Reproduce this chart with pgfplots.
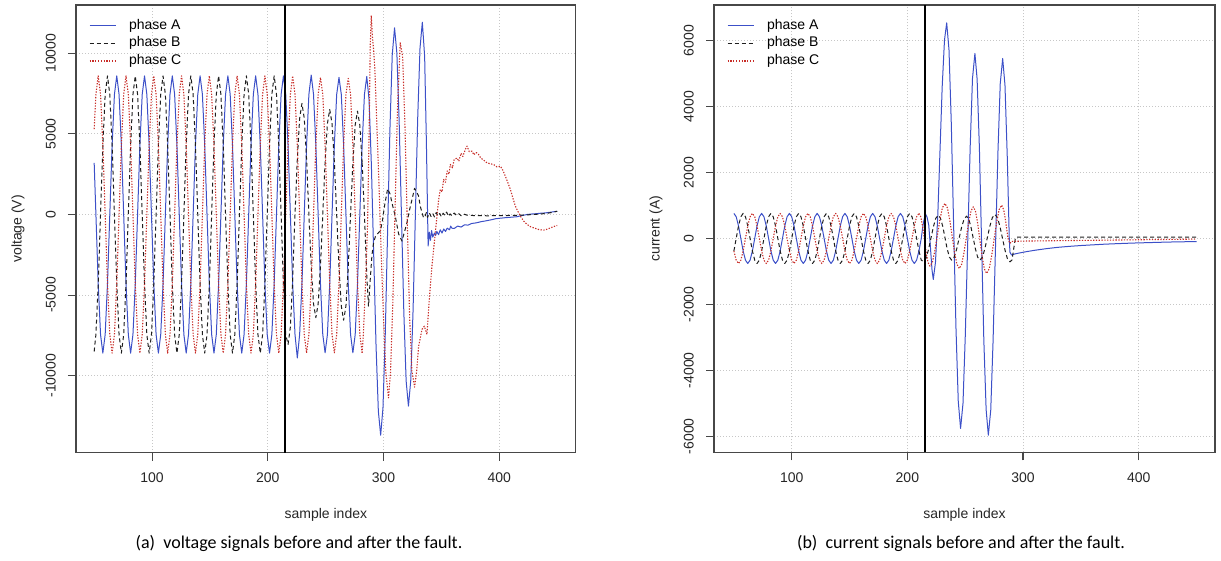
\documentclass[border=0pt]{standalone}
\usepackage{fontspec}
\setmainfont{Liberation Sans}
\newfontfamily\capfont{Carlito}
\usepackage{pgfplots}
\pgfplotsset{compat=1.18}
\usepackage{pgfplotstable}
\definecolor{phA}{RGB}{60,80,200}
\definecolor{phB}{RGB}{30,30,30}
\definecolor{phC}{RGB}{200,45,40}

\pgfplotstableread{
x A B C
50 3200 -8500 5300
51.5 0 -7448 7448
53.5 -4300 -4300 8600
55.5 -7448 0 7448
57.5 -8600 4300 4300
59.5 -7448 7448 0
61.5 -4300 8600 -4300
63.5 0 7448 -7448
65.5 4300 4300 -8600
67.5 7448 0 -7448
69.5 8600 -4300 -4300
71.5 7448 -7448 0
73.5 4300 -8600 4300
75.5 0 -7448 7448
77.5 -4300 -4300 8600
79.5 -7448 0 7448
81.5 -8600 4300 4300
83.5 -7448 7448 0
85.5 -4300 8600 -4300
87.5 0 7448 -7448
89.5 4300 4300 -8600
91.5 7448 0 -7448
93.5 8600 -4300 -4300
95.5 7448 -7448 0
97.5 4300 -8600 4300
99.5 0 -7448 7448
101.5 -4300 -4300 8600
103.5 -7448 0 7448
105.5 -8600 4300 4300
107.5 -7448 7448 0
109.5 -4300 8600 -4300
111.5 0 7448 -7448
113.5 4300 4300 -8600
115.5 7448 0 -7448
117.5 8600 -4300 -4300
119.5 7448 -7448 0
121.5 4300 -8600 4300
123.5 0 -7448 7448
125.5 -4300 -4300 8600
127.5 -7448 0 7448
129.5 -8600 4300 4300
131.5 -7448 7448 0
133.5 -4300 8600 -4300
135.5 0 7448 -7448
137.5 4300 4300 -8600
139.5 7448 0 -7448
141.5 8600 -4300 -4300
143.5 7448 -7448 0
145.5 4300 -8600 4300
147.5 0 -7448 7448
149.5 -4300 -4300 8600
151.5 -7448 0 7448
153.5 -8600 4300 4300
155.5 -7448 7448 0
157.5 -4300 8600 -4300
159.5 0 7448 -7448
161.5 4300 4300 -8600
163.5 7448 0 -7448
165.5 8600 -4300 -4300
167.5 7448 -7448 0
169.5 4300 -8600 4300
171.5 0 -7448 7448
173.5 -4300 -4300 8600
175.5 -7448 0 7448
177.5 -8600 4300 4300
179.5 -7448 7448 0
181.5 -4300 8600 -4300
183.5 0 7448 -7448
185.5 4300 4300 -8600
187.5 7448 0 -7448
189.5 8600 -4300 -4300
191.5 7448 -7448 0
193.5 4300 -8600 4300
195.5 0 -7448 7448
197.5 -4300 -4300 8600
199.5 -7448 0 7448
201.5 -8600 4300 4300
203.5 -7448 7448 0
205.5 -4300 8600 -4300
207.5 0 7448 -7448
209.5 4300 4300 -8600
211.5 7448 0 -7448
213.5 8600 -4300 -4300
215.5 7448 -7448 0
217.5 4300 -8060 4300
219.5 0 -6980 7448
221.5 -4300 -4030 8600
223.5 -7448 0 7448
225.5 -8900 3445 4300
227.5 -7448 5967 0
229.5 -4300 6890 -4300
231.5 0 5967 -7448
233.5 4300 3445 -8600
235.5 7448 0 -7448
237.5 8650 -3200 -4300
239.5 7448 -5542 0
241.5 4300 -6400 4300
243.5 0 -5542 7448
245.5 -4300 -3200 8500
247.5 -7448 0 7448
249.5 -8580 3255 4300
251.5 -7448 5638 0
253.5 -4300 6510 -4300
255.5 0 5638 -7448
257.5 4300 3255 -8580
259.5 7448 0 -7448
261.5 8500 -3280 -4300
263.5 7448 -5681 0
265.5 4300 -6560 4300
267.5 0 -5681 7448
269.5 -4300 -3280 8440
271.5 -7448 0 7448
273.5 -8580 3205 4300
275.5 -7448 5551 0
277.5 -4300 6410 -4300
279.5 0 5551 -7448
281.5 4300 3205 -8580
}\volgrid

\pgfplotstableread{
x y
281.5 4300
283.5 7448
285.5 8560
287.5 7107
289.5 3027
291.5 -2545
293.5 -8117
295.5 -12197
297.5 -13690
299.5 -11997
301.5 -7373
303.5 -1055
305.5 5263
307.5 9887
309.5 11580
311.5 10008
313.5 5713
315.5 -155
317.5 -6023
319.5 -10318
321.5 -11890
323.5 -10294
325.5 -5935
327.5 20
329.5 5975
331.5 10334
333.5 11930
335.5 9800
337 4500
338.5 -1960
339.5 -1100
340.5 -1600
341.5 -1000
342.5 -1400
344 -1150
345 -1300
346 -1050
347.5 -1250
349 -950
350.5 -1150
352 -900
353.5 -1050
355 -850
357 -950
358 -720
359 -850
361 -870
364 -720
367 -780
370 -640
373 -660
376 -560
380 -520
384 -450
388 -400
393 -330
397 -260
401 -230
405 -200
410 -170
415 -140
420 -60
424 0
428 30
432 50
436 80
440 100
445 150
450 200
}\volAtail

\pgfplotstableread{
x y
281.5 3205
283.5 0
285.5 -3800
287 -5690
288.5 -4030
290 -2500
291.4 -1760
293 -1350
294.3 -1240
296 -1100
297.2 -1030
299 -400
301 600
303.5 1590
305.5 1300
308 500
310.1 -100
313 -1200
315.9 -1650
318 -1100
320.2 -520
322.5 300
324.6 930
326.8 1620
328.5 1400
330.3 1140
331.7 515
333.5 50
334.6 -210
336 -80
337 120
338 -180
339.5 100
341 -120
342.5 60
344 -150
345.5 120
347 -80
348.5 60
350 -140
351.5 80
353 -60
354.5 150
356 -110
357.5 40
359 -90
361 90
363 -60
365 50
367 -80
369 30
372 -40
376 -60
380 -70
390 -80
400 -70
410 -60
420 -40
430 0
440 60
445 120
450 200
}\volBtail

\pgfplotstableread{
x y
281.5 -8580
282.5 -7500
284.2 -4760
286.2 -620
287.5 5000
288.5 10500
289.4 12340
290.4 11000
291.4 10230
292.5 9000
294 6000
296 2000
298 -2500
300 -6500
302 -9800
304.3 -11370
306 -9800
308 -5500
310 500
312 6500
314.4 10650
316.5 9800
318.5 5500
320.5 -500
322.5 -6300
324.5 -9700
326.8 -10710
328.5 -9800
330.3 -8170
333.2 -7130
335.2 -6930
337.5 -7440
339.5 -5270
341.8 -3200
344.7 -1140
347.6 930
349 1550
350.5 1400
351.9 2170
353.5 2000
355 2700
356.5 2500
357.7 3100
359.5 2900
361 3400
363.5 3510
365 3300
367 3800
368.5 3600
370.6 4030
372.1 4240
374 3900
376.4 3930
378 3700
380 3850
382.1 3720
384 3500
386 3400
389.4 3200
392 3150
395.1 3100
398 2950
400.9 3000
403 2750
405.2 2380
407.5 1950
409.6 1550
412 950
413.9 515
416 200
418.2 -100
421 -400
424 -620
427 -760
429.7 -830
434 -930
438.4 -970
441 -920
444.2 -830
447 -750
450 -680
}\volCtail

\pgfplotstableread{
x A B C
50 760 -380 -380
52 658 0 -658
54 380 380 -760
56 0 658 -658
58 -380 760 -380
60 -658 658 0
62 -760 380 380
64 -658 0 658
66 -380 -380 760
68 0 -658 658
70 380 -760 380
72 658 -658 0
74 760 -380 -380
76 658 0 -658
78 380 380 -760
80 0 658 -658
82 -380 760 -380
84 -658 658 0
86 -760 380 380
88 -658 0 658
90 -380 -380 760
92 0 -658 658
94 380 -760 380
96 658 -658 0
98 760 -380 -380
100 658 0 -658
102 380 380 -760
104 0 658 -658
106 -380 760 -380
108 -658 658 0
110 -760 380 380
112 -658 0 658
114 -380 -380 760
116 0 -658 658
118 380 -760 380
120 658 -658 0
122 760 -380 -380
124 658 0 -658
126 380 380 -760
128 0 658 -658
130 -380 760 -380
132 -658 658 0
134 -760 380 380
136 -658 0 658
138 -380 -380 760
140 0 -658 658
142 380 -760 380
144 658 -658 0
146 760 -380 -380
148 658 0 -658
150 380 380 -760
152 0 658 -658
154 -380 760 -380
156 -658 658 0
158 -760 380 380
160 -658 0 658
162 -380 -380 760
164 0 -658 658
166 380 -760 380
168 658 -658 0
170 760 -380 -380
172 658 0 -658
174 380 380 -760
176 0 658 -658
178 -380 760 -380
180 -658 658 0
182 -760 380 380
184 -658 0 658
186 -380 -380 760
188 0 -658 658
190 380 -760 380
192 658 -658 0
194 760 -380 -380
196 658 0 -658
198 380 380 -760
200 0 658 -658
202 -380 760 -380
204 -658 658 0
206 -760 380 380
208 -658 0 658
210 -380 -380 760
}\curgrid

\pgfplotstableread{
x y
210 -380
212 0
213.5 400
215.5 750
217 650
218.5 400
220 -300
221.3 -950
222.4 -1245
224.3 -723
226.3 702
228.2 2650
230.1 4598
232.1 6023
234 6544
236 5720
238 3467
240 389
242 -2689
244 -4942
246 -5767
248.1 -5005
250.1 -2922
252.2 -76
254.3 2770
256.3 4853
258.4 5615
260.3 4839
262.3 2718
264.2 -178
266.1 -3074
268.1 -5195
270 -5970
272.1 -5205
274.1 -3112
276.2 -254
278.3 2604
280.3 4697
282.4 5463
284.4 4650
286.4 2450
288.1 0
288.7 -420
290 -500
293 -470
297 -440
303 -400
310 -360
320 -310
330 -270
340 -240
350 -215
360 -195
370 -175
380 -160
395 -140
410 -125
425 -110
440 -100
450 -95
}\curAtail

\pgfplotstableread{
x y
210 -380
212 -658
214 -700
216.1 -606
218.2 -348
220.35 4
222.5 355
224.6 613
226.7 707
228.6 615
230.6 365
232.5 24
234.4 -318
236.4 -568
238.3 -660
240.45 -570
242.6 -326
244.75 9
246.9 343
249.05 587
251.2 677
253.1 587
255 343
256.95 9
258.9 -326
260.8 -570
262.7 -660
264.9 -567
267 -313
269.2 34
271.4 381
273.5 635
275.7 728
277.9 632
280 369
282.2 9
284.4 -351
286.5 -614
288.7 -710
290.5 -650
292 -300
293.5 30
295 40
350 40
450 40
}\curBtail

\pgfplotstableread{
x y
210 760
211.6 653
213.2 360
214.75 -40
216.3 -440
217.9 -733
219.5 -840
221.7 -713
223.8 -365
226 111
228.2 587
230.3 935
232.5 1062
234.6 930
236.6 569
238.7 75
240.8 -419
242.8 -780
244.9 -912
246.9 -787
248.9 -444
250.95 24
253 492
255 835
257 960
258.9 824
260.8 454
262.75 -52
264.7 -557
266.6 -928
268.5 -1063
270.7 -924
272.8 -545
275 -27
277.2 492
279.3 871
281.5 1010
283.3 870
285.1 500
287 0
288.7 -150
290 -90
300 -80
350 -60
400 -40
450 -20
}\curCtail

\pgfplotsset{
  rstyle/.style={
    scale only axis,
    axis line style={draw=black!72, line width=1.1pt},
    tick align=outside, xtick pos=bottom, ytick pos=left,
    major tick length=8pt,
    tick style={draw=black!72, line width=1.1pt},
    xtick={100,200,300,400}, xticklabels={100,200,300,400},
    ticklabel style={font=\fontsize{14}{16}\selectfont, inner sep=0pt, text=black!85},
    xticklabel style={anchor=north},
    yticklabel style={rotate=90, anchor=south},
    xticklabel shift=12pt, yticklabel shift=12pt,
    scaled y ticks=false, scaled x ticks=false,
    grid=major,
    major grid style={draw=black!22, line width=0.8pt, dash pattern=on 1pt off 2pt},
    every axis x label/.style={at={([yshift=-66.3pt]rel axis cs:0.5,0)}, anchor=base, font=\fontsize{14}{16}\selectfont, text=black!85},
    every axis y label/.style={at={([xshift=-54.5pt]rel axis cs:0,0.5)}, rotate=90, anchor=base, font=\fontsize{14}{16}\selectfont, text=black!85},
    legend cell align=left,
    legend image code/.code={\draw[##1] (0pt,0pt) -- (26pt,0pt);},
    legend style={draw=none, fill=none, inner sep=0pt, outer sep=0pt,
      at={(rel axis cs:0,1)}, anchor=north west, xshift=13pt, yshift=-14.5pt,
      row sep=4.5pt, column sep=13pt,
      font=\fontsize{14}{16}\selectfont,
      nodes={inner sep=0pt, text height=10pt, text depth=3pt, anchor=west}},
    every axis plot/.append style={line join=round},
  },
  sA/.style={phA, line width=1pt},
  sB/.style={phB, line width=1pt, dash pattern=on 4pt off 3pt},
  sC/.style={phC, line width=1.1pt, dash pattern=on 1.3pt off 1.5pt},
}

\begin{document}
\begin{tikzpicture}
\useasboundingbox (0pt,0pt) rectangle (1221pt,561pt);
\begin{axis}[rstyle,
  at={(76pt,108.3pt)}, anchor=south west,
  width=499.7pt, height=447.7pt,
  xmin=34.3, xmax=466, ymin=-14777, ymax=12996,
  ytick={-10000,-5000,0,5000,10000},
  yticklabels={-10000,-5000,0,5000,10000},
  xlabel={sample index}, ylabel={voltage (V)}]
\addplot[sA] table[x=x,y=A]{\volgrid}; \addlegendentry{phase A}
\addplot[sB] table[x=x,y=B]{\volgrid}; \addlegendentry{phase B}
\addplot[sC] table[x=x,y=C]{\volgrid}; \addlegendentry{phase C}
\addplot[sA, forget plot] table[x=x,y=y]{\volAtail};
\addplot[sB, forget plot] table[x=x,y=y]{\volBtail};
\addplot[sC, forget plot] table[x=x,y=y]{\volCtail};
\addplot[black, line width=1.8pt, forget plot] coordinates {(215,-14777) (215,12996)};
\end{axis}

\begin{axis}[rstyle,
  at={(714pt,108.7pt)}, anchor=south west,
  width=501pt, height=447.3pt,
  xmin=32.8, xmax=466, ymin=-6490, ymax=7085,
  ytick={-6000,-4000,-2000,0,2000,4000,6000},
  yticklabels={-6000,-4000,-2000,0,2000,4000,6000},
  xlabel={sample index}, ylabel={current (A)}]
\addplot[sA] table[x=x,y=A]{\curgrid}; \addlegendentry{phase A}
\addplot[sB] table[x=x,y=B]{\curgrid}; \addlegendentry{phase B}
\addplot[sC] table[x=x,y=C]{\curgrid}; \addlegendentry{phase C}
\addplot[sA, forget plot] table[x=x,y=y]{\curAtail};
\addplot[sB, forget plot] table[x=x,y=y]{\curBtail};
\addplot[sC, forget plot] table[x=x,y=y]{\curCtail};
\addplot[black, line width=1.8pt, forget plot] coordinates {(215,-6490) (215,7085)};
\end{axis}

\node[font=\capfont\fontsize{18}{20}\selectfont, anchor=base] at (299pt,12.5pt) {(a)\ \ voltage signals before and after the fault.};
\node[font=\capfont\fontsize{18}{20}\selectfont, anchor=base] at (961pt,12.5pt) {(b)\ \ current signals before and after the fault.};
\end{tikzpicture}
\end{document}
